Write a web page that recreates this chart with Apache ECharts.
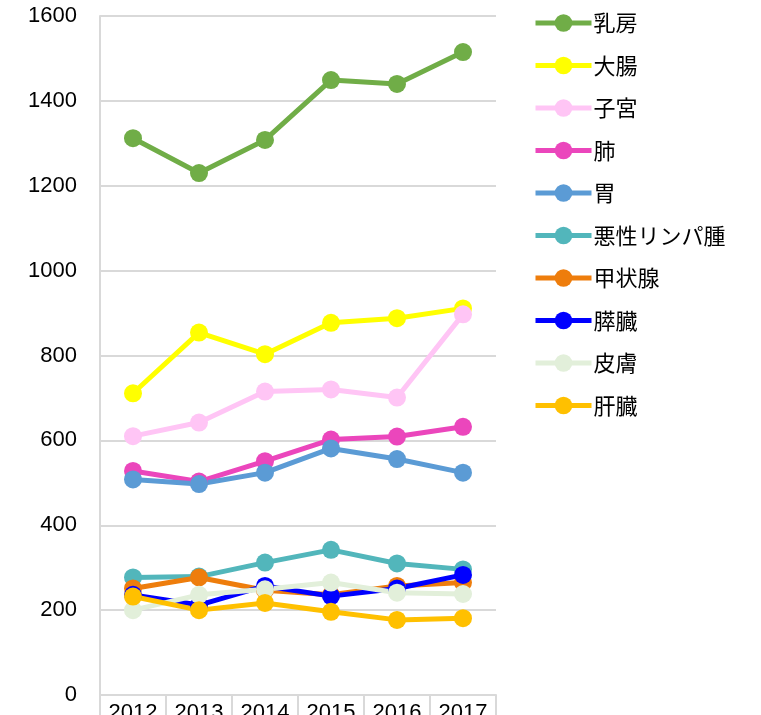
<!DOCTYPE html>
<html>
<head>
<meta charset="utf-8">
<script src="https://cdn.jsdelivr.net/npm/echarts@6/dist/echarts.min.js"></script>
<style>
  html, body { margin: 0; padding: 0; background: #fff; }
  #chart { width: 761px; height: 715px; }
</style>
</head>
<body>
<div id="chart"></div>
<script>
// 年
const years = ["2012", "2013", "2014", "2015", "2016", "2017"];

// 部位ごとの値
const breast = [1312, 1230, 1308, 1449, 1440, 1515];
const colon = [711, 854, 803, 877, 888, 911];
const uterus = [610, 642, 715, 720, 701, 897];
const lung = [528, 503, 551, 602, 609, 632];
const stomach = [508, 497, 524, 581, 556, 524];
const lymphoma = [277, 279, 312, 342, 310, 296];
const thyroid = [251, 277, 247, 236, 257, 265];
const pancreas = [236, 212, 257, 233, 251, 283];
const skin = [200, 236, 249, 265, 241, 238];
const liver = [232, 200, 217, 196, 177, 181];

const SERIES = [
  ["乳房", breast, "#70AD47"],
  ["大腸", colon, "#FFFF00"],
  ["子宮", uterus, "#FFC5F5"],
  ["肺", lung, "#EB46BC"],
  ["胃", stomach, "#5B9BD5"],
  ["悪性リンパ腫", lymphoma, "#52B6BB"],
  ["甲状腺", thyroid, "#EE7D0C"],
  ["膵臓", pancreas, "#0000FF"],
  ["皮膚", skin, "#E2EFDA"],
  ["肝臓", liver, "#FFC000"],
];

const NUM_FONT = "'Liberation Sans', Arial, sans-serif";
const JP_FONT = "'Noto Sans CJK JP', sans-serif";
const GRID_COLOR = "#D9D9D9";

const chart = echarts.init(document.getElementById("chart"));

chart.setOption({
  animation: false,
  backgroundColor: "#fff",
  grid: { left: 100, right: 265, top: 16, bottom: 20, outerBoundsMode: "none", containLabel: false },
  legend: {
    orient: "vertical",
    left: 533,
    top: 12,
    padding: 0,
    itemWidth: 56,
    itemHeight: 22,
    itemGap: 20.5,
    lineStyle: { width: 5 },
    textStyle: { fontFamily: JP_FONT, fontSize: 22, color: "#000", padding: [0, 0, 0, -3] },
    data: SERIES.map((s) => s[0]),
  },
  xAxis: {
    type: "category",
    data: years,
    boundaryGap: true,
    axisLine: { lineStyle: { color: GRID_COLOR, width: 2 } },
    axisTick: { show: true, interval: 0, length: 30, lineStyle: { color: GRID_COLOR, width: 2 } },
    axisLabel: { fontFamily: NUM_FONT, fontSize: 22, color: "#000", margin: 7, interval: 0 },
  },
  yAxis: {
    type: "value",
    min: 0,
    max: 1600,
    interval: 200,
    axisLine: { show: true, lineStyle: { color: GRID_COLOR, width: 2 } },
    axisTick: { show: false },
    splitLine: { lineStyle: { color: GRID_COLOR, width: 2 } },
    axisLabel: {
      fontFamily: NUM_FONT,
      fontSize: 22,
      color: "#000",
      margin: 23,
      formatter: (v) => String(v),
    },
  },
  series: SERIES.map(([name, data, color]) => ({
    name,
    type: "line",
    data,
    symbol: "circle",
    symbolSize: 18,
    lineStyle: { color, width: 5 },
    itemStyle: { color },
  })),
});
</script>
</body>
</html>
